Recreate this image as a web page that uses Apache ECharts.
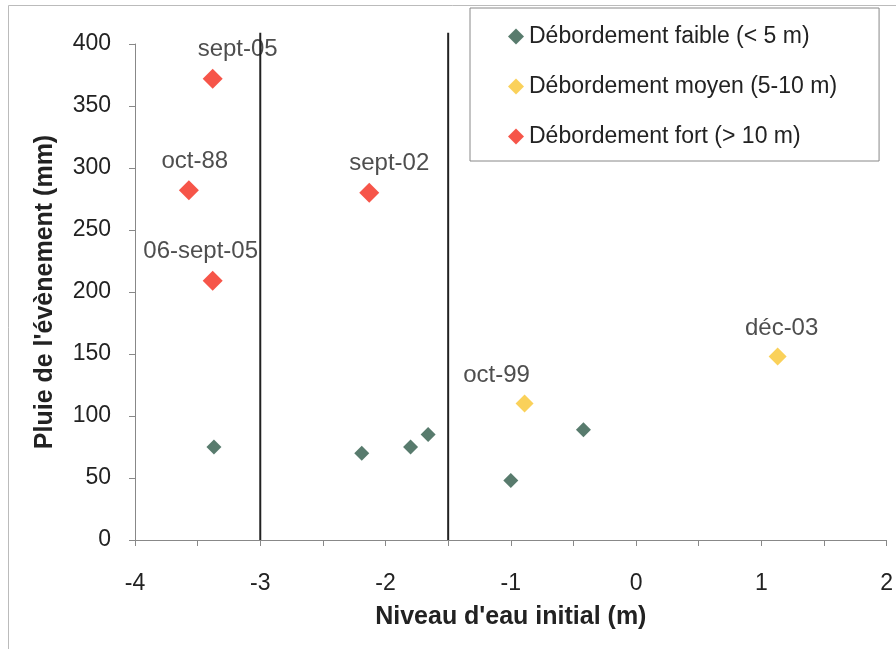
<!DOCTYPE html>
<html>
<head>
<meta charset="utf-8">
<script src="https://cdn.jsdelivr.net/npm/echarts@6/dist/echarts.min.js"></script>
<style>
    html, body { margin: 0; padding: 0; background: #fff; }
    #chart { width: 896px; height: 649px; }
</style>
</head>
<body>
<div id="chart"></div>
<script>
// series values: [niveau d'eau initial (m), pluie (mm)]
const faible_pts = [[-3.37, 75], [-2.19, 70], [-1.8, 75], [-1.66, 85], [-1.0, 48], [-0.42, 89]];
const moyen_pts = [[-0.89, 110], [1.13, 148]];
const moyen_names = ["oct-99", "déc-03"];
const fort_pts = [[-3.38, 372], [-3.57, 282], [-3.38, 209], [-2.13, 280]];
const fort_names = ["sept-05", "oct-88", "06-sept-05", "sept-02"];
const seuils = [-3, -1.5]; // vertical threshold lines
const seuil_top = 409;

const series_names = [
    "Débordement faible (< 5 m)",
    "Débordement moyen (5-10 m)",
    "Débordement fort (> 10 m)",
];

// label nudges so text sits like the original
const label_offsets = {
    "sept-05": [25, 0],
    "oct-88": [6, 0],
    "06-sept-05": [-12, 0],
    "sept-02": [20, 0],
    "oct-99": [-28, 0],
    "déc-03": [4, 0],
};

const FONT = "Arial, 'Liberation Sans', sans-serif";
const TXT = "#222";
const FS = 23;

function named(pts, names) {
    return pts.map((p, i) => ({
        value: p,
        name: names[i],
        label: { offset: label_offsets[names[i]] ?? [0, 0] },
    }));
}

const point_label = {
    show: true,
    position: "top",
    distance: 7,
    formatter: (p) => p.name,
    color: TXT,
    fontSize: 24,
    fontFamily: FONT,
};

const chart = echarts.init(document.getElementById("chart"), null, { renderer: "canvas" });

chart.setOption({
    animation: false,
    backgroundColor: "#fff",
    textStyle: { fontFamily: FONT },
    graphic: [
        {
            type: "rect",
            shape: { x: 8.5, y: 5.5, width: 900, height: 700 },
            style: { fill: "none", stroke: "#bbb", lineWidth: 1 },
            silent: true,
        },
    ],
    grid: { left: 135, right: 3, top: 44, bottom: 109 },
    legend: {
        orient: "vertical",
        left: 470,
        top: 8,
        itemGap: 27,
        itemWidth: 16,
        itemHeight: 16,
        padding: [17, 42, 13, 38],
        borderColor: "#888",
        borderWidth: 1,
        borderRadius: 0,
        textStyle: { color: TXT, fontSize: FS, fontFamily: FONT },
        data: series_names.map((n) => ({ name: n, icon: "diamond" })),
    },
    xAxis: {
        type: "value",
        min: -4,
        max: 2,
        interval: 0.5,
        name: "Niveau d'eau initial (m)",
        nameLocation: "middle",
        nameGap: 65,
        nameTextStyle: { color: TXT, fontSize: 25, fontWeight: "bold", fontFamily: FONT },
        axisLine: { show: true, onZero: false, lineStyle: { color: "#888", width: 1 } },
        axisTick: { show: true, length: 6, lineStyle: { color: "#888" } },
        axisLabel: {
            color: TXT,
            fontSize: FS,
            margin: 32,
            formatter: (v) => (Number.isInteger(v) ? String(v) : ""),
        },
        splitLine: { show: false },
    },
    yAxis: {
        type: "value",
        min: 0,
        max: 400,
        interval: 50,
        name: "Pluie de l'évènement (mm)",
        nameLocation: "middle",
        nameGap: 77,
        nameTextStyle: { color: TXT, fontSize: 25, fontWeight: "bold", fontFamily: FONT },
        axisLine: { show: true, onZero: false, lineStyle: { color: "#888", width: 1 } },
        axisTick: { show: true, length: 6, lineStyle: { color: "#888" } },
        axisLabel: { color: TXT, fontSize: FS, margin: 24 },
        splitLine: { show: false },
    },
    series: [
        ...seuils.map((x) => ({
            type: "line",
            silent: true,
            clip: false,
            showSymbol: false,
            symbol: "none",
            lineStyle: { color: "#222", width: 2 },
            data: [[x, 0], [x, seuil_top]],
            z: 1,
        })),
        {
            name: series_names[0],
            type: "scatter",
            symbol: "diamond",
            symbolSize: 15,
            itemStyle: { color: "#2e5a48" },
            data: faible_pts,
        },
        {
            name: series_names[1],
            type: "scatter",
            symbol: "diamond",
            symbolSize: 18,
            itemStyle: { color: "#f9c531" },
            label: point_label,
            data: named(moyen_pts, moyen_names),
        },
        {
            name: series_names[2],
            type: "scatter",
            symbol: "diamond",
            symbolSize: 20,
            itemStyle: { color: "#f42a1c" },
            label: point_label,
            data: named(fort_pts, fort_names),
        },
    ],
});
</script>
</body>
</html>
